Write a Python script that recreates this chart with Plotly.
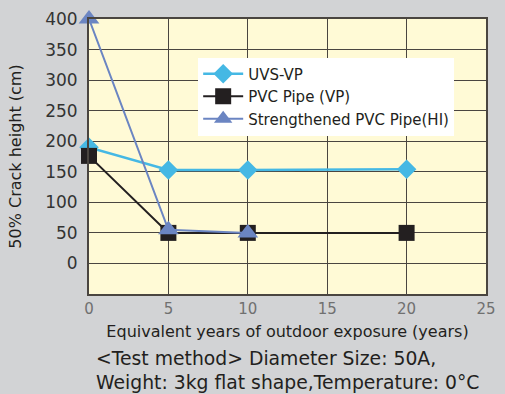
import plotly.graph_objects as go

years = [0, 5, 10, 20]
uvs_vp = [190, 153, 153, 154]
pvc_vp = [176, 50, 50, 50]
hi_years = [0, 5, 10]
pvc_hi = [400, 55, 50]

y_ticks = [0, 50, 100, 150, 200, 250, 300, 350, 400]
x_ticks = [0, 5, 10, 15, 20, 25]

FONT = "DejaVu Sans"

fig = go.Figure()
fig.add_trace(go.Scatter(
    x=years, y=uvs_vp, name="UVS-VP", mode="lines+markers",
    line=dict(color="#45b8e4", width=2.5),
    marker=dict(symbol="diamond", size=15, color="#45b8e4"),
    cliponaxis=False,
))
fig.add_trace(go.Scatter(
    x=years, y=pvc_vp, name="PVC Pipe (VP)", mode="lines+markers",
    line=dict(color="#231f20", width=2),
    marker=dict(symbol="square", size=16, color="#231f20"),
    cliponaxis=False,
))
fig.add_trace(go.Scatter(
    x=hi_years, y=pvc_hi, name="Strengthened PVC Pipe(HI)", mode="lines+markers",
    line=dict(color="#6b85c2", width=2),
    marker=dict(symbol="triangle-up", size=18, color="#6b85c2"),
    cliponaxis=False,
))

fig.update_layout(
    width=505, height=394,
    margin=dict(l=89, r=9, t=17, b=100),
    paper_bgcolor="#d2d3d5",
    plot_bgcolor="#fffad6",
    font=dict(family=FONT, color="#333333"),
    showlegend=True,
    legend=dict(
        x=0.275, y=0.86, xanchor="left", yanchor="top",
        bgcolor="#ffffff", borderwidth=0,
        font=dict(size=15, color="#231f20", family=FONT),
        itemwidth=40, tracegroupgap=0,
    ),
    xaxis=dict(
        range=[0, 25], tickvals=x_ticks, ticktext=[str(v) for v in x_ticks],
        showgrid=True, gridcolor="#4a4540", gridwidth=1.2,
        showline=True, linecolor="#4a4540", linewidth=2, mirror=True,
        zeroline=False, ticks="",
        tickfont=dict(size=15, color="#707070", family=FONT),
        title=dict(text="Equivalent years of outdoor exposure (years)",
                   font=dict(size=16, color="#231f20", family=FONT), standoff=9),
    ),
    yaxis=dict(
        range=[-50, 400], tickvals=y_ticks, ticktext=[str(v) for v in y_ticks],
        showgrid=True, gridcolor="#4a4540", gridwidth=1.2,
        showline=True, linecolor="#4a4540", linewidth=2, mirror=True,
        zeroline=False, ticks="", ticklabelstandoff=6,
        tickfont=dict(size=17, color="#333333", family=FONT),
        title=dict(text="50% Crack height (cm)",
                   font=dict(size=16, color="#231f20", family=FONT), standoff=20),
    ),
    annotations=[
        dict(text="&lt;Test method&gt; Diameter Size: 50A,<br>Weight: 3kg flat shape,Temperature: 0°C",
             xref="paper", yref="paper", x=0.013, y=-0.19, xanchor="left", yanchor="top",
             align="left", showarrow=False,
             font=dict(size=18.8, color="#231f20", family=FONT)),
    ],
)

fig.write_html("out.html")
